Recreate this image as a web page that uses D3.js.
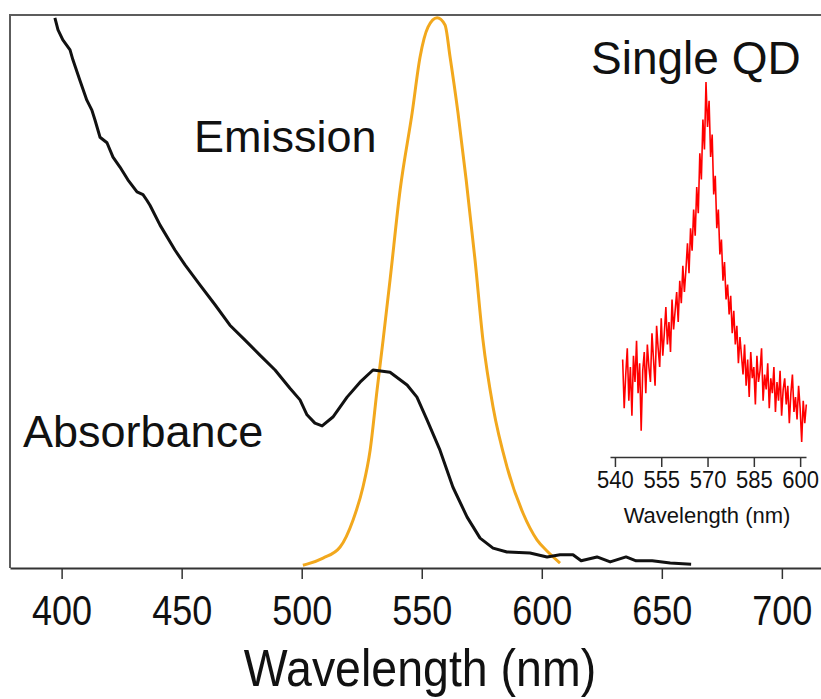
<!DOCTYPE html>
<html>
<head>
<meta charset="utf-8">
<script src="https://cdn.jsdelivr.net/npm/d3@7"></script>
<style>
    body { margin: 0; background: #fff; }
    svg { display: block; font-family: "Liberation Sans", Arial, sans-serif; }
</style>
</head>
<body>
<svg id="chart"></svg>
<script>
// Absorbance (black) - wavelength in nm, relative value
const absWl = [397.2, 398.5, 400.5, 403.5, 404.7, 407.6, 410.5, 412.6, 413.9, 416.0, 418.9, 421.4, 424.3, 427.6,
    431.4, 433.9, 435.5, 436.8, 441.0, 447.2, 451.4, 457.6, 463.9, 470.1, 476.4, 482.6, 488.9, 495.1, 499.3,
    502.2, 505.5, 508.5, 513.0, 518.9, 524.3, 529.7, 536.8, 543.9, 548.0, 552.2, 557.6, 563.0, 568.9, 574.3,
    579.7, 585.5, 595.1, 602.2, 607.6, 613.0, 616.4, 623.0, 628.5, 635.1, 639.3, 646.0, 653.5, 662.2];
const absVal = [0.995, 0.973, 0.955, 0.937, 0.919, 0.882, 0.846, 0.828, 0.810, 0.779, 0.769, 0.743, 0.725, 0.702,
    0.680, 0.675, 0.665, 0.656, 0.620, 0.575, 0.548, 0.512, 0.476, 0.439, 0.412, 0.385, 0.358, 0.325, 0.304,
    0.277, 0.262, 0.257, 0.273, 0.309, 0.336, 0.358, 0.354, 0.331, 0.309, 0.268, 0.213, 0.146, 0.092, 0.054,
    0.036, 0.029, 0.027, 0.020, 0.024, 0.024, 0.013, 0.020, 0.011, 0.020, 0.013, 0.013, 0.009, 0.007];

// Emission (orange)
const emWl = [500.5, 502.2, 508.9, 516.0, 521.4, 525.5, 528.5, 531.4, 533.9, 536.8, 541.0, 546.0, 549.3, 552.6,
    556.4, 559.7, 561.8, 565.1, 568.5, 572.2, 575.5, 579.7, 585.5, 592.2, 598.0, 602.6, 607.6];
const emVal = [0.005, 0.007, 0.018, 0.038, 0.087, 0.146, 0.213, 0.322, 0.412, 0.521, 0.684, 0.823, 0.924, 0.978,
    0.995, 0.982, 0.924, 0.823, 0.702, 0.557, 0.412, 0.291, 0.183, 0.099, 0.051, 0.029, 0.009];

// Single QD spectrum (red), sampled every 0.5 nm from 542.5 nm
const qdStart = 542.5, qdStep = 0.5;
const qdVal = [26, 13, 22, 29, 15, 24, 11, 27, 20, 31, 17, 25, 7, 23,
    28, 17, 30, 24, 20, 33, 26, 19, 35, 29, 24, 37, 27, 33, 40, 30, 36, 28, 42, 34, 39, 44,
    36, 47, 41, 51, 44, 50, 57, 49, 61, 55,
    66, 59, 72, 65, 81, 74, 90, 82, 100, 88, 95,
    80, 86, 70, 75, 61, 66, 54, 58, 47, 52, 42, 46, 38,
    43, 33, 39, 30, 35, 25, 32, 27,
    22, 30, 19, 26, 16, 28, 21, 24, 14, 27, 20, 23, 29, 15, 22, 18, 25, 13, 21, 17, 24, 12,
    20, 15, 23, 11, 18, 21, 14, 19, 9, 17, 22, 12, 16, 10, 19, 13, 4, 15, 9, 14];

const xTicks = [400, 450, 500, 550, 600, 650, 700];
const insetTicks = [540, 555, 570, 585, 600];

const W = 821, H = 699;
const svg = d3.select("#chart").attr("width", W).attr("height", H);

// Main scales
const x = d3.scaleLinear().domain([378.5, 716.3]).range([10, 821]);
const y = d3.scaleLinear().domain([0, 1]).range([568, 15]);

// Frame (top and left)
svg.append("path")
    .attr("d", `M821,15H10V568`)
    .attr("fill", "none")
    .attr("stroke", "#5c5c5c")
    .attr("stroke-width", 2);

// Main x axis
const xAxisGroup = svg.append("g")
    .attr("transform", `translate(0,568)`)
    .call(d3.axisBottom(x).tickValues(xTicks).tickSize(11).tickSizeOuter(0).tickFormat(d3.format("d")));
xAxisGroup.select(".domain").attr("stroke", "#333").attr("stroke-width", 2);
xAxisGroup.selectAll("line").attr("stroke", "#333").attr("stroke-width", 1.5);
xAxisGroup.selectAll("text")
    .attr("fill", "#111")
    .attr("font-size", 36)
    .attr("dy", null)
    .attr("y", 57 / 1.17)
    .attr("transform", "scale(1,1.17)");

svg.append("text")
    .attr("text-anchor", "middle")
    .attr("transform", "translate(420,686) scale(1,1.1)")
    .attr("font-size", 46.5)
    .attr("fill", "#111")
    .text("Wavelength (nm)");

const line = d3.line().x(d => x(d[0])).y(d => y(d[1]));

// Emission
svg.append("path")
    .datum(emWl.map((w, i) => [w, emVal[i]]))
    .attr("fill", "none")
    .attr("stroke", "#F2A81D")
    .attr("stroke-width", 3)
    .attr("d", line.curve(d3.curveMonotoneX));

// Absorbance
svg.append("path")
    .datum(absWl.map((w, i) => [w, absVal[i]]))
    .attr("fill", "none")
    .attr("stroke", "#111")
    .attr("stroke-width", 3)
    .attr("stroke-linejoin", "round")
    .attr("d", line.curve(d3.curveLinear));

// Labels
svg.append("text").attr("x", 194).attr("y", 152).attr("font-size", 45).attr("fill", "#111").text("Emission");
svg.append("text").attr("x", 23).attr("y", 447).attr("font-size", 45).attr("fill", "#111").text("Absorbance");
svg.append("text").attr("x", 591).attr("y", 74).attr("font-size", 46).attr("fill", "#111").text("Single QD");

// Inset
const xi = d3.scaleLinear().domain([538.4, 601.9]).range([610, 806]);
const yi = d3.scaleLinear().domain([0, 100]).range([457, 82]);

const insetAxis = svg.append("g")
    .attr("transform", "translate(0,457)")
    .call(d3.axisBottom(xi).tickValues(insetTicks).tickSize(10).tickSizeOuter(0).tickFormat(d3.format("d")));
insetAxis.select(".domain").attr("stroke", "#333").attr("stroke-width", 1.5);
insetAxis.selectAll("line").attr("stroke", "#333").attr("stroke-width", 1.5);
insetAxis.selectAll("text")
    .attr("fill", "#111")
    .attr("font-size", 22)
    .attr("dy", null)
    .attr("y", 31 / 1.08)
    .attr("transform", "scale(1,1.08)");

svg.append("text")
    .attr("text-anchor", "middle")
    .attr("x", 707)
    .attr("y", 523)
    .attr("font-size", 22)
    .attr("fill", "#111")
    .text("Wavelength (nm)");

svg.append("path")
    .datum(qdVal.map((v, i) => [qdStart + i * qdStep, v]))
    .attr("fill", "none")
    .attr("stroke", "#FF0000")
    .attr("stroke-width", 1.6)
    .attr("d", d3.line().x(d => xi(d[0])).y(d => yi(d[1])));
</script>
</body>
</html>
